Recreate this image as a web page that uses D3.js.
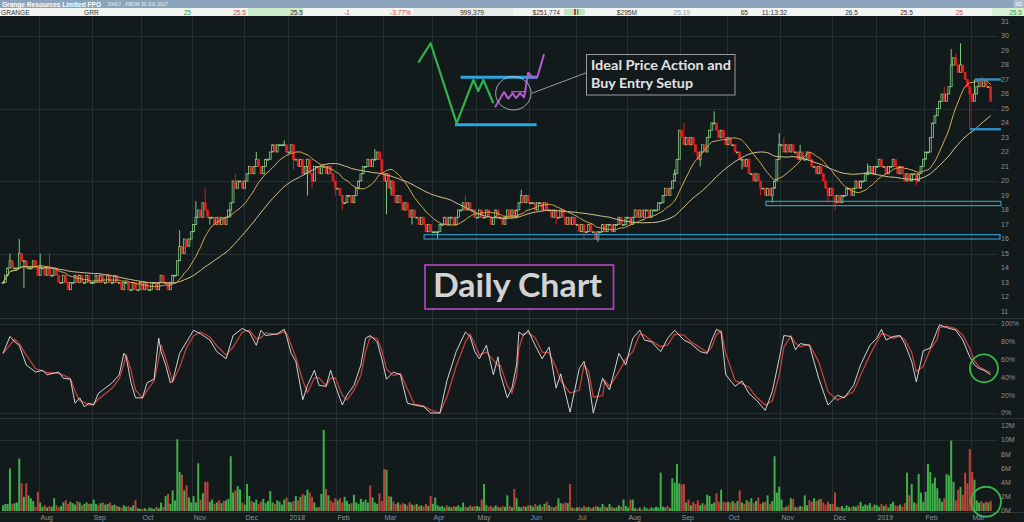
<!DOCTYPE html>
<html>
<head>
<meta charset="utf-8">
<script src="https://cdn.jsdelivr.net/npm/d3@7"></script>
<style>
html, body { margin: 0; padding: 0; background: #131a1c; overflow: hidden; }
svg { display: block; }
</style>
</head>
<body>
<div id="chart"></div>
<script>
const width = 1024;
const height = 522;

// daily closes (cents), 10 Jul 2017 .. Mar 2019
const closes = [
  // Jul 17
  13,13.5,14,14.5,14,14,14,15,14.5,14.5,14,14,14,14.5,14,13.5,
  // Aug
  14,14,13.5,14,13.5,13.5,14,13.5,13,13,13.5,13,12.5,13,13,13.5,13,13.5,13,13,13.5,13,13,
  // Sep
  13,13.5,13,13.5,13,13,13.5,13,13,13.5,13,13,12.5,13,13,12.5,12.5,13,12.5,12.5,13,
  // Oct
  12.5,13,12.5,12.5,13,13,12.5,13,13.5,13,13,12.5,13,13.5,13.5,14.5,15.5,15,16,15.5,16,16.5,
  // Nov
  17,17.5,18,17.5,18.5,18,17.5,17.5,17.5,17,17.5,17,17.5,17,17.5,18,18.5,20,19.5,20,20,19.5,
  // Dec
  20,20.5,21,20.5,21,21.5,21,20.5,21,21.5,21.5,22,22.5,22,22.5,22.5,22.5,22.5,22,
  // Jan 18
  22,22.5,21.5,21.5,21,21.5,20.5,21,21.5,20.5,20,21,21,20.5,21,21,20.5,21,20.5,20,19.5,
  // Feb
  19.5,19,18.5,18.5,19,19,18.5,19,19.5,20,20.5,21,21,21.5,21,21.5,21.5,22,21.5,20.5,
  // Mar
  20,20.5,19.5,20,19,18.5,19,18.5,18,18.5,18,17.5,18,17.5,17.5,17,17.5,17,16.5,17,16.5,
  // Apr
  16.5,16.5,16.5,17,17,17.5,17,17.5,17.5,17,17.5,18,18,18.5,18,18.5,18,18,17.5,
  // May
  17.5,18,17.5,17.5,18,17.5,17,17.5,18,17.5,17.5,17,17.5,18,17.5,18,17.5,18,18.5,19,18.5,19,18.5,
  // Jun
  18.5,18.5,18,18.5,18.5,18,18.5,18,18,17.5,18,17.5,17.5,18,17.5,17,17.5,17,17.5,17,
  // Jul
  17,16.5,17,16.5,16.5,17,16.5,16.5,16,16.5,16.5,17,16.5,17,17,16.5,17,17,17.5,17,17,17.5,
  // Aug
  17.5,17,17.5,18,17.5,18,17.5,18,18,17.5,18,18,18,18.5,18.5,19,19.5,19,19.5,20,20.5,21.5,23.5,
  // Sep
  23,22.5,23,22.5,23,22.5,22,21.5,22,22.5,22,23,23.5,24,24,23.5,23,23.5,23,22.5,
  // Oct
  23,22.5,22.5,22,22,21.5,21.5,21,21.5,20.5,20.5,20,20.5,20,19.5,19.5,19,19.5,19,19.5,20,21.5,22.5,
  // Nov
  22.5,22,22.5,22,22.5,22,22,21.5,22,21.5,21.5,22,21.5,21,21,20.5,21,20.5,20,19.5,19,19.5,
  // Dec
  19,18.5,19,18.5,19,19,19.5,19.5,19,19.5,20,19.5,20,20,20.5,20.5,21,20.5,21,
  // Jan 19
  21,21.5,21,21,20.5,21,21,21.5,21,20.5,21,20.5,20,20.5,20,20.5,20.5,20,20.5,21,21.5,
  // Feb
  22,22,23,24,24.5,25,25.5,26,25.5,26,26.5,28,28.5,28,27.5,28,27.5,27,26.5,26,
  // Mar
  25.5,26,26.5,27,26.5,27,26.5,26.5,25.5
];

// visible wick extremes [day, price]
const highMarks = [[3,15],[7,16],[16,15],[20,15],[76,16.6],[83,18.6],[87,19.5],[100,20.5],[109,22],[121,22.8],[160,22.2],[161,22],
  [199,19],[223,19.4],[289,20.8],[293,24],[306,24.8],[334,23.3],[336,23],[343,22.5],[372,21.2],[405,26.5],[408,29.1],[410,28.8],
  [412,29.5],[414,27.5],[418,27],[421,27.2]];
const lowMarks = [[9,12.6],[89,17],[98,17.5],[125,20.8],[131,19],[133,19.5],[143,19],[146,18],[165,17.7],[167,19],[176,17],[187,16],
  [238,17],[250,16],[256,15.8],[300,21],[318,20.8],[326,19],[331,18.5],[355,18.5],[358,18],[393,19.7],[416,23.6]];

// daily volume (millions)
const volumes = [
  0.8,1,1,6,1,1.1,1.2,7.4,3.9,2,3.9,2.2,1.8,1.4,0.6,2.7,
  1.2,0.6,0.8,0.5,0.7,0.6,1.8,0.8,0.5,0.7,1.2,1.5,1,1.3,1.1,0.9,1.4,1.2,0.8,1,1.2,1,1,
  1.6,1,0.8,1.1,1.2,0.9,1,1.2,0.8,0.9,0.7,0.6,0.5,0.8,0.6,0.7,0.5,0.8,1.5,0.4,0.3,
  0.3,0.4,0.2,0.5,0.4,0.3,0.6,0.4,1.2,0.6,2.1,2.4,1,2.9,1.5,10.1,5.5,5.1,2.9,3.6,1.9,1.2,
  2.1,1.2,6.7,1.6,2.5,4.1,4.1,1.3,1.6,1,1.2,1.5,1.1,1.4,1.5,1.7,7.7,2.6,2.9,3.5,3,1.2,
  0.9,3.8,2.1,1.4,1.2,1.6,1,1.3,1.7,1.1,1.4,2.8,1.2,1,1.5,1.3,0.9,1.6,1.9,
  1.3,1.2,1.4,2.1,1.5,2,2.4,2.2,3,2.6,2,1.2,0.5,0.6,2.4,11.4,3.1,2.2,1.5,1.2,1.8,
  1.5,1.8,1.2,2,1.4,1,1.1,2.3,1.2,1,1.7,1.3,1.6,1.2,3.6,1.9,1.2,1,2.5,1.4,
  5.9,5.8,2.1,2,1.3,1,1.2,0.9,1.1,1,0.8,1.2,0.9,0.8,1,0.7,0.8,0.6,1,0.7,2.1,
  1,1.9,0.8,0.6,0.7,0.5,0.8,0.6,0.5,0.7,0.6,0.8,0.5,1.2,0.6,0.5,0.8,0.6,0.7,
  0.7,0.6,1.6,3.8,0.8,0.6,0.7,0.5,0.8,0.6,0.5,0.7,0.6,2.2,0.7,0.5,3.1,1.8,0.6,0.5,0.7,0.6,0.8,
  0.8,0.6,1,0.7,0.9,0.6,1,1.3,0.8,0.6,0.5,0.7,1.8,1.1,1,1.2,1.1,3.8,0.5,0.4,
  0.5,0.6,0.4,0.7,0.5,0.6,0.4,0.5,0.7,0.6,0.5,1,0.6,0.5,1,0.6,0.4,0.5,0.8,0.6,1.6,0.7,
  0.5,1.6,1.6,0.4,0.3,0.5,0.2,0.6,0.4,0.3,0.5,0.4,0.6,0.5,5.4,0.6,0.5,0.7,0.4,4.6,4,6.6,3.9,
  3.7,3.8,1.2,1.6,0.8,1.3,1,1.5,0.8,1.1,0.9,2.3,2.1,1,1.2,2.5,1.3,3,1.3,1.2,
  1.3,1.2,1.4,1.1,1.4,2.9,1.2,1,1.5,1.3,1.8,1.1,1.4,1.9,1,1.2,1.3,2.2,1,1.4,7.7,2.6,3.4,
  1.6,0.5,0.6,0.8,1.8,1.7,0.6,0.5,0.7,0.6,2.2,0.8,1.5,1.3,1.8,1.4,1.6,1.7,1.2,0.9,1.3,1,
  1,2.6,0.6,0.5,0.7,0.4,0.8,0.6,0.5,0.7,0.6,0.8,1.3,0.7,0.9,0.8,1.1,0.6,0.9,
  0.8,0.6,1,0.7,0.9,0.5,1,1.3,0.8,0.7,0.9,0.6,1.1,5.4,2.2,3.8,1.2,1.1,5.2,2.6,1.3,
  2.7,6.6,5.5,3.9,4.7,3.2,1.8,1.3,1.8,5.2,5,9.9,4.1,1.5,3,3.4,2.3,5.4,3.9,8.7,
  5.5,4.4,1.5,1.2,1.4,1.1,1.3,1.2,1.4
];

// stochastic %K: trading day index and value
const stochDay = [0,3,5,7,10,14,17,19,24,26,29,31,33,35,37,39,41,47,50,52,53,55,57,60,62,65,67,68,70,72,73,76,79,82,85,89,92,96,99,103,106,109,111,113,118,121,122,124,126,129,131,134,136,139,141,143,146,148,151,154,156,158,161,163,165,168,171,174,177,181,184,188,191,195,199,201,203,205,208,211,213,214,217,219,221,222,224,226,229,232,235,238,240,244,248,250,252,254,258,259,261,265,268,271,274,276,279,283,286,289,293,296,300,303,305,307,309,311,315,318,321,324,328,331,334,336,339,341,343,347,351,355,359,362,366,369,373,376,378,380,383,386,388,391,393,396,399,402,403,406,410,413,416,418,420,422,425];
const stochK = [67,86,80,76,54,46,48,43,46,39,38,11,17,7,11,9,22,34,43,67,63,35,17,17,34,38,84,69,54,34,36,67,80,93,89,82,69,61,87,95,91,76,93,87,89,94,86,67,58,15,31,48,31,30,48,31,9,20,31,54,84,87,80,61,38,46,43,11,9,7,0,0,36,69,91,86,69,61,76,43,63,44,17,28,54,91,87,93,76,61,74,28,44,1,50,58,36,0,39,34,26,67,54,84,93,82,80,69,84,93,82,78,69,67,82,94,91,43,30,36,22,15,3,24,61,87,86,71,78,76,39,9,20,17,31,54,76,84,94,82,86,87,78,58,35,70,73,93,99,96,93,82,63,54,50,48,43];

// month ticks
const monthLabels = ["Aug","Sep","Oct","Nov","Dec","2018","Feb","Mar","Apr","May","Jun","Jul","Aug","Sep","Oct","Nov","Dec","2019","Feb","Mar"];
const monthStarts = [16,39,60,82,104,123,144,164,185,204,227,247,269,292,312,335,357,376,397,417];
const priceTicks = d3.range(11, 32);
const stochTicks = [0, 20, 40, 60, 80, 100];
const volTicks = [0, 2, 4, 6, 8, 10, 12];

// quote strip
const quoteTexts = ["GRANGE","GRR","25","25.5","25.5","-1","-3.77%","999,379","$251,774","$295M","25.19","65","11:13:32","26.5","25.5","25","25.5"];
const quoteLayout = [
  {x: 1, a: "start", c: "#333"}, {x: 84, a: "start", c: "#333"}, {x: 191, a: "end", c: "#3b9b3b"},
  {x: 246, a: "end", c: "#d04a4a"}, {x: 303, a: "end", c: "#333"}, {x: 350, a: "end", c: "#d04a4a"},
  {x: 411, a: "end", c: "#d04a4a"}, {x: 484, a: "end", c: "#333"}, {x: 560, a: "end", c: "#333"},
  {x: 637, a: "end", c: "#333"}, {x: 690, a: "end", c: "#9a9a9a"}, {x: 748, a: "end", c: "#333"},
  {x: 787, a: "end", c: "#333"}, {x: 858, a: "end", c: "#333"}, {x: 913, a: "end", c: "#333"},
  {x: 963, a: "end", c: "#d04a4a"}, {x: 1022, a: "end", c: "#3b9b3b"}
];

const bg = "#131a1c";
const gridColor = "#243032";
const axisColor = "#8a9597";
const upColor = "#8edc8a";
const downColor = "#e41f1f";

const svg = d3.select("#chart")
    .append("svg")
    .attr("width", width)
    .attr("height", height);

svg.append("rect").attr("width", width).attr("height", height).attr("fill", bg);

const x = d3.scaleLinear().domain([0, closes.length - 1]).range([3, 990.7]);
const step = x(1) - x(0);
const yPrice = d3.scaleLinear().domain([11, 31]).range([311.5, 21.5]);
const yStoch = d3.scaleLinear().domain([0, 100]).range([413, 324]);
const yVol = d3.scaleLinear().domain([0, 12]).range([511, 425.7]);

// ---- grid ----
const grid = svg.append("g").attr("stroke", gridColor).attr("stroke-width", 1);
grid.selectAll(".vgrid")
    .data(monthStarts)
    .enter().append("line")
    .attr("x1", d => Math.round(x(d) - step / 2) + 0.5)
    .attr("x2", d => Math.round(x(d) - step / 2) + 0.5)
    .attr("y1", 16).attr("y2", 512);
grid.selectAll(".hp")
    .data([15, 20, 25, 30])
    .enter().append("line")
    .attr("x1", 0).attr("x2", 998)
    .attr("y1", d => Math.round(yPrice(d)) + 0.5).attr("y2", d => Math.round(yPrice(d)) + 0.5);
grid.selectAll(".hs")
    .data([0, 100])
    .enter().append("line")
    .attr("x1", 0).attr("x2", 998)
    .attr("y1", d => Math.round(yStoch(d)) + 0.5).attr("y2", d => Math.round(yStoch(d)) + 0.5);
grid.append("line").attr("x1", 0).attr("x2", 998)
    .attr("y1", Math.round(yVol(10)) + 0.5).attr("y2", Math.round(yVol(10)) + 0.5);

// pane separators
svg.selectAll(".sep")
    .data([318.5, 418.5, 512.5])
    .enter().append("line")
    .attr("x1", 0).attr("x2", width)
    .attr("y1", d => d).attr("y2", d => d)
    .attr("stroke", "#2a3537").attr("stroke-width", 1);

// ---- candles ----
const highMap = new Map(highMarks);
const lowMap = new Map(lowMarks);
const candles = closes.map((c, i) => {
    const o = i ? closes[i - 1] : c;
    const top = Math.max(o, c), bot = Math.min(o, c);
    return {
        i, o, c,
        h: Math.max(top, highMap.get(i) ?? top),
        l: Math.min(bot, lowMap.get(i) ?? bot),
        up: c >= o
    };
});
const bw = step * 0.8;

const cg = svg.append("g");
cg.selectAll(".wick")
    .data(candles.filter(d => d.h > Math.max(d.o, d.c) || d.l < Math.min(d.o, d.c)))
    .enter().append("line")
    .attr("x1", d => x(d.i)).attr("x2", d => x(d.i))
    .attr("y1", d => yPrice(d.h)).attr("y2", d => yPrice(d.l))
    .attr("stroke", d => d.up ? upColor : downColor)
    .attr("stroke-width", 0.9);

cg.selectAll(".body")
    .data(candles)
    .enter().append("rect")
    .attr("x", d => x(d.i) - bw / 2)
    .attr("y", d => yPrice(Math.max(d.o, d.c)))
    .attr("width", bw)
    .attr("height", d => Math.max(0.9, yPrice(Math.min(d.o, d.c)) - yPrice(Math.max(d.o, d.c))))
    .attr("fill", d => d.up ? bg : downColor)
    .attr("stroke", d => d.up ? upColor : downColor)
    .attr("stroke-width", 0.75);

// moving averages
const sma = n => closes.map((_, i) => d3.mean(closes.slice(Math.max(0, i - n + 1), i + 1)));
const priceLine = d3.line().x((d, i) => x(i)).y(d => yPrice(d)).curve(d3.curveMonotoneX);
svg.append("path").attr("d", priceLine(sma(40)))
    .attr("fill", "none").attr("stroke", "#d8c494").attr("stroke-width", 1);
svg.append("path").attr("d", priceLine(sma(15)))
    .attr("fill", "none").attr("stroke", "#dcae4e").attr("stroke-width", 1);

// support zones
const zones = [
    {from: 181.2, to: 429, lo: 16.0, hi: 16.3},
    {from: 328.3, to: 429.4, lo: 18.3, hi: 18.6}
];
svg.selectAll(".zone")
    .data(zones)
    .enter().append("rect")
    .attr("x", d => x(d.from))
    .attr("y", d => yPrice(d.hi))
    .attr("width", d => x(d.to) - x(d.from))
    .attr("height", d => yPrice(d.lo) - yPrice(d.hi))
    .attr("fill", "none")
    .attr("stroke", "#3a9fd2")
    .attr("stroke-width", 1.1);

const levels = [
    {from: 418.2, to: 429.4, p: 27.0},
    {from: 416.1, to: 429.4, p: 23.57}
];
svg.selectAll(".level")
    .data(levels)
    .enter().append("line")
    .attr("x1", d => x(d.from)).attr("x2", d => x(d.to))
    .attr("y1", d => yPrice(d.p)).attr("y2", d => yPrice(d.p))
    .attr("stroke", "#2f8fc4").attr("stroke-width", 2.4);

// ---- ideal setup sketch ----
const sketchGreen = [[178.7,28.16],[184.0,29.5],[195.2,23.98],[202.4,26.97],[204.5,26.21],[206.7,26.97],[211.0,25.36]];
const sketchPurple = [[211.7,25.08],[215.6,26.14],[217.4,25.68],[219.3,26.05],[220.7,25.72],[222.5,26.05],[224.2,25.77],[226.0,27.47],[228.1,27.12],[229.9,27.15],[232.8,28.74]];
const sketchLevels = [{from: 196.9, to: 229.9, p: 27.15}, {from: 194.5, to: 229.6, p: 23.88}];
const sketchLine = d3.line().x(d => x(d[0])).y(d => yPrice(d[1]));

svg.selectAll(".slevel")
    .data(sketchLevels)
    .enter().append("line")
    .attr("x1", d => x(d.from)).attr("x2", d => x(d.to))
    .attr("y1", d => yPrice(d.p)).attr("y2", d => yPrice(d.p))
    .attr("stroke", "#2aa6e2").attr("stroke-width", 3);
svg.append("path").attr("d", sketchLine(sketchGreen))
    .attr("fill", "none").attr("stroke", "#2fb34b").attr("stroke-width", 2.2).attr("stroke-linejoin", "round");
svg.append("line")
    .attr("x1", x(218.6)).attr("x2", x(225.3))
    .attr("y1", yPrice(26.16)).attr("y2", yPrice(26.16))
    .attr("stroke", "#b35bd0").attr("stroke-width", 1.2);
svg.append("path").attr("d", sketchLine(sketchPurple))
    .attr("fill", "none").attr("stroke", "#b35bd0").attr("stroke-width", 2).attr("stroke-linejoin", "round");
svg.append("ellipse")
    .attr("cx", x(219.6)).attr("cy", yPrice(26.05))
    .attr("rx", 17.7).attr("ry", 16.7)
    .attr("fill", "none").attr("stroke", "#c8c8c8").attr("stroke-width", 0.8);
svg.append("line")
    .attr("x1", 531.7).attr("y1", 93.3).attr("x2", 586.5).attr("y2", 72.7)
    .attr("stroke", "#bbbbbb").attr("stroke-width", 0.8);

const noteFont = "Lato, 'Open Sans', sans-serif";
svg.append("rect")
    .attr("x", 586.5).attr("y", 54.5).attr("width", 148.5).attr("height", 40.5)
    .attr("fill", bg).attr("stroke", "#9c9c9c").attr("stroke-width", 1);
svg.append("text")
    .attr("x", 591).attr("y", 69.5)
    .attr("font-family", noteFont).attr("font-weight", 700)
    .attr("font-size", 13.4).attr("fill", "#e2e2e2")
    .attr("textLength", 140).attr("lengthAdjust", "spacingAndGlyphs")
    .text("Ideal Price Action and");
svg.append("text")
    .attr("x", 591).attr("y", 88)
    .attr("font-family", noteFont).attr("font-weight", 700)
    .attr("font-size", 13.4).attr("fill", "#e2e2e2")
    .attr("textLength", 102).attr("lengthAdjust", "spacingAndGlyphs")
    .text("Buy Entry Setup");

// Daily Chart label
svg.append("rect")
    .attr("x", 425).attr("y", 265).attr("width", 188.5).attr("height", 44)
    .attr("fill", bg).attr("stroke", "#a444b6").attr("stroke-width", 1.8);
svg.append("text")
    .attr("x", 433).attr("y", 297)
    .attr("font-family", noteFont).attr("font-weight", 700)
    .attr("font-size", 32.5).attr("fill", "#d2d2d2")
    .attr("textLength", 169).attr("lengthAdjust", "spacingAndGlyphs")
    .text("Daily Chart");

// ---- stochastic ----
const stoch = stochDay.map((d, i) => ({d, k: stochK[i], sig: i ? (stochK[i] + stochK[i - 1]) / 2 : stochK[i]}));
const stochLine = d3.line().x(p => x(p.d)).curve(d3.curveLinear);
svg.append("path")
    .attr("d", stochLine.y(p => yStoch(p.sig))(stoch))
    .attr("fill", "none").attr("stroke", "#c0403f").attr("stroke-width", 1.3);
svg.append("path")
    .attr("d", stochLine.y(p => yStoch(p.k))(stoch))
    .attr("fill", "none").attr("stroke", "#e6e6e6").attr("stroke-width", 0.9);

// ---- volume ----
const vw = step * 0.86;
svg.append("g")
    .selectAll(".vol")
    .data(volumes)
    .enter().append("rect")
    .attr("x", (d, i) => x(i) - vw / 2)
    .attr("y", d => yVol(d))
    .attr("width", vw)
    .attr("height", d => yVol(0) - yVol(d))
    .attr("fill", (d, i) => candles[i].up ? "#3fb04a" : "#c0403a");

// highlight circles
const circles = [
    {d: 422.1, y: yStoch(50.2), r: 14},
    {d: 423, y: yVol(1.3), r: 15}
];
svg.selectAll(".hl")
    .data(circles)
    .enter().append("circle")
    .attr("cx", d => x(d.d)).attr("cy", d => d.y).attr("r", d => d.r)
    .attr("fill", "none").attr("stroke", "#36b54b").attr("stroke-width", 1.8);

// ---- axes labels ----
const axisFont = "'Liberation Sans', Arial, sans-serif";
const ax = svg.append("g")
    .attr("font-family", axisFont).attr("font-size", 7).attr("fill", axisColor);
ax.selectAll(".pt")
    .data(priceTicks)
    .enter().append("text")
    .attr("x", 1001).attr("y", d => yPrice(d)).attr("dy", "0.35em")
    .text(d => d);
ax.selectAll(".st")
    .data(stochTicks)
    .enter().append("text")
    .attr("x", 1001).attr("y", d => yStoch(d)).attr("dy", "0.35em")
    .text(d => d + "%");
ax.selectAll(".vt")
    .data(volTicks)
    .enter().append("text")
    .attr("x", 1001).attr("y", d => yVol(d)).attr("dy", "0.35em")
    .text(d => d + "M");
ax.selectAll(".mt")
    .data(monthLabels)
    .enter().append("text")
    .attr("x", (d, i) => Math.round(x(monthStarts[i]) - step / 2) + 1.5)
    .attr("y", 519.5)
    .text(d => d);

// ---- header ----
const header = svg.append("g").attr("font-family", axisFont);
header.append("rect").attr("x", 0).attr("y", 0).attr("width", width).attr("height", 8).attr("fill", "#8ba4bc");
header.append("text").attr("x", 2).attr("y", 6.8)
    .attr("font-size", 7.2).attr("font-weight", 700).attr("fill", "#ffffff")
    .attr("textLength", 99).attr("lengthAdjust", "spacingAndGlyphs")
    .text("Grange Resources Limited FPO");
header.append("text").attr("x", 108).attr("y", 6.3)
    .attr("font-size", 4.6).attr("fill", "#eef2f6")
    .attr("textLength", 60).attr("lengthAdjust", "spacingAndGlyphs")
    .text("DAILY , FROM 10 JUL 2017");
header.append("rect").attr("x", 1013.5).attr("y", 0).attr("width", 10.5).attr("height", 7.5).attr("fill", "#a9bdd0");
header.append("text").attr("x", 1018.7).attr("y", 6).attr("text-anchor", "middle")
    .attr("font-size", 5).attr("fill", "#ffffff").text("XD");

header.append("rect").attr("x", 0).attr("y", 8).attr("width", width).attr("height", 8).attr("fill", "#f3f5f3");
header.append("rect").attr("x", 248).attr("y", 8).attr("width", 55).attr("height", 8).attr("fill", "#cbeccb");
header.append("rect").attr("x", 413).attr("y", 8).attr("width", 100).attr("height", 8).attr("fill", "#e9ebea");
header.append("rect").attr("x", 992).attr("y", 8).attr("width", 32).attr("height", 8).attr("fill", "#d6f0d6");
header.append("rect").attr("x", 564).attr("y", 9).attr("width", 21).attr("height", 6).attr("fill", "#bfe6bf");
header.append("rect").attr("x", 574).attr("y", 9).attr("width", 2).attr("height", 6).attr("fill", "#d23a3a");
header.append("rect").attr("x", 577).attr("y", 9).attr("width", 1.5).attr("height", 6).attr("fill", "#4aa84a");
header.selectAll(".q")
    .data(quoteTexts)
    .enter().append("text")
    .attr("x", (d, i) => quoteLayout[i].x)
    .attr("y", 14.5)
    .attr("text-anchor", (d, i) => quoteLayout[i].a)
    .attr("font-size", 6.6)
    .attr("fill", (d, i) => quoteLayout[i].c)
    .text(d => d);
</script>
</body>
</html>
